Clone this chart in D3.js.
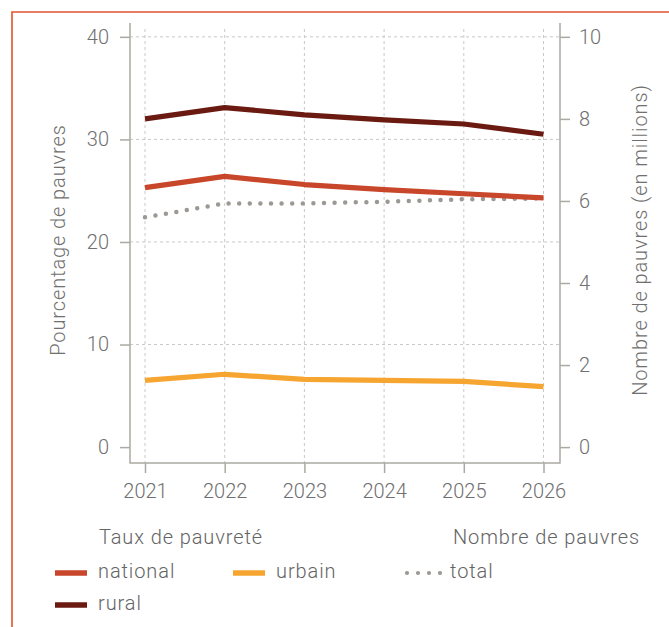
<!DOCTYPE html>
<html><head><meta charset="utf-8">
<script src="https://cdn.jsdelivr.net/npm/d3@7"></script>
<style>
body{margin:0;background:#fff;}
svg{display:block;font-family:"Roboto Light",Roboto,"Helvetica Neue",Arial,sans-serif;font-weight:300;}
</style></head><body>
<svg id="c" width="669" height="627"></svg>
<script>
const years=[2021,2022,2023,2024,2025,2026];
const national=[25.3,26.4,25.6,25.1,24.7,24.3];
const rural=[32.0,33.1,32.4,31.9,31.5,30.5];
const urbain=[6.5,7.1,6.6,6.5,6.4,5.9];
const totalMillions=[5.6,5.94,5.94,5.98,6.04,6.06];
const leftTicks=[0,10,20,30,40];
const rightTicks=[0,2,4,6,8,10];
const gridTicks=[10,20,30,40];
const leftTitle="Pourcentage de pauvres";
const rightTitle="Nombre de pauvres (en millions)";
const legendHead1="Taux de pauvreté";
const legendHead2="Nombre de pauvres";

const C={national:"#c8462a",rural:"#6a1a10",urbain:"#f6a630",total:"#9c9994",axis:"#aaa9a3",grid:"#c9c9c9",text:"#707070",frame:"#e0542e"};
const LS="0.9px";

const svg=d3.select("#c");
const L=130,R=560,T=23,B=463;
const x=d3.scaleLinear().domain([2021,2026]).range([145,543.5]);
const y=d3.scaleLinear().domain([-1.55,41.35]).range([B,T]);
const y2=d3.scaleLinear().domain([-1.55/4,41.35/4]).range([B,T]);

// frame
svg.append("path").attr("d",`M12,640V12H680`).attr("fill","none").attr("stroke",C.frame).attr("stroke-width",1.6);

// grid
svg.append("g").selectAll("line").data(gridTicks).join("line")
  .attr("x1",L).attr("x2",R).attr("y1",d=>y(d)).attr("y2",d=>y(d))
  .attr("stroke",C.grid).attr("stroke-dasharray","3,3").attr("stroke-width",1);
svg.append("g").selectAll("line").data(years).join("line")
  .attr("x1",d=>x(d)).attr("x2",d=>x(d)).attr("y1",T+6).attr("y2",B)
  .attr("stroke",C.grid).attr("stroke-dasharray","3,3").attr("stroke-width",1);

function styleAxis(g){
  g.select(".domain").remove();
  g.selectAll(".tick line").attr("stroke",C.axis).attr("stroke-width",1.5);
  g.selectAll("text").attr("fill",C.text).attr("font-size",20);
}
svg.append("g").attr("transform",`translate(${L},0)`)
  .call(d3.axisLeft(y).tickValues(leftTicks).tickSize(10).tickPadding(11))
  .attr("font-family",null).call(styleAxis);
svg.append("g").attr("transform",`translate(${R},0)`)
  .call(d3.axisRight(y2).tickValues(rightTicks).tickSize(10).tickPadding(9))
  .attr("font-family",null).call(styleAxis);
svg.append("g").attr("transform",`translate(0,${B})`)
  .call(d3.axisBottom(x).tickValues(years).tickFormat(d3.format("d")).tickSize(10).tickPadding(11))
  .attr("font-family",null).call(styleAxis);

// plot frame lines
svg.append("path").attr("d",`M${L},${T}V${B}H${R}V${T}`).attr("fill","none").attr("stroke",C.axis).attr("stroke-width",1.5);

// titles
svg.append("text").attr("transform","translate(58,240) rotate(-90)").attr("text-anchor","middle").attr("dy","0.35em")
  .attr("fill",C.text).attr("font-size",20).attr("letter-spacing",LS).text(leftTitle);
svg.append("text").attr("transform","translate(640,240) rotate(-90)").attr("text-anchor","middle").attr("dy","0.35em")
  .attr("fill",C.text).attr("font-size",20).attr("letter-spacing",LS).text(rightTitle);

// lines
const lineL=d3.line().x((d,i)=>x(years[i])).y(d=>y(d));
const lineR=d3.line().x((d,i)=>x(years[i])).y(d=>y2(d));
svg.append("path").datum(totalMillions).attr("d",lineR).attr("fill","none").attr("stroke",C.total)
  .attr("stroke-width",4.5).attr("stroke-linecap","round").attr("stroke-dasharray","0,10.6");
[[urbain,C.urbain],[national,C.national],[rural,C.rural]].forEach(([v,c])=>{
  svg.append("path").datum(v).attr("d",lineL).attr("fill","none").attr("stroke",c).attr("stroke-width",5.2).attr("stroke-linejoin","round");
});

// legend
const lg=svg.append("g").attr("font-size",20).attr("fill","#646464").attr("letter-spacing",LS);
lg.append("text").attr("x",99).attr("y",544).text(legendHead1);
lg.append("text").attr("x",640).attr("y",544).attr("text-anchor","end").text(legendHead2);
const items=[{k:"national",x:55,y:573,c:C.national},{k:"urbain",x:233,y:573,c:C.urbain},{k:"rural",x:55,y:605,c:C.rural}];
items.forEach(it=>{
  lg.append("line").attr("x1",it.x).attr("x2",it.x+32).attr("y1",it.y).attr("y2",it.y).attr("stroke",it.c).attr("stroke-width",5.5);
  lg.append("text").attr("x",it.x+43).attr("y",it.y+5).text(it.k);
});
lg.append("line").attr("x1",407).attr("x2",441).attr("y1",573).attr("y2",573).attr("stroke",C.total)
  .attr("stroke-width",4.2).attr("stroke-linecap","round").attr("stroke-dasharray","0,11");
lg.append("text").attr("x",450).attr("y",578).text("total");
</script>
</body></html>
